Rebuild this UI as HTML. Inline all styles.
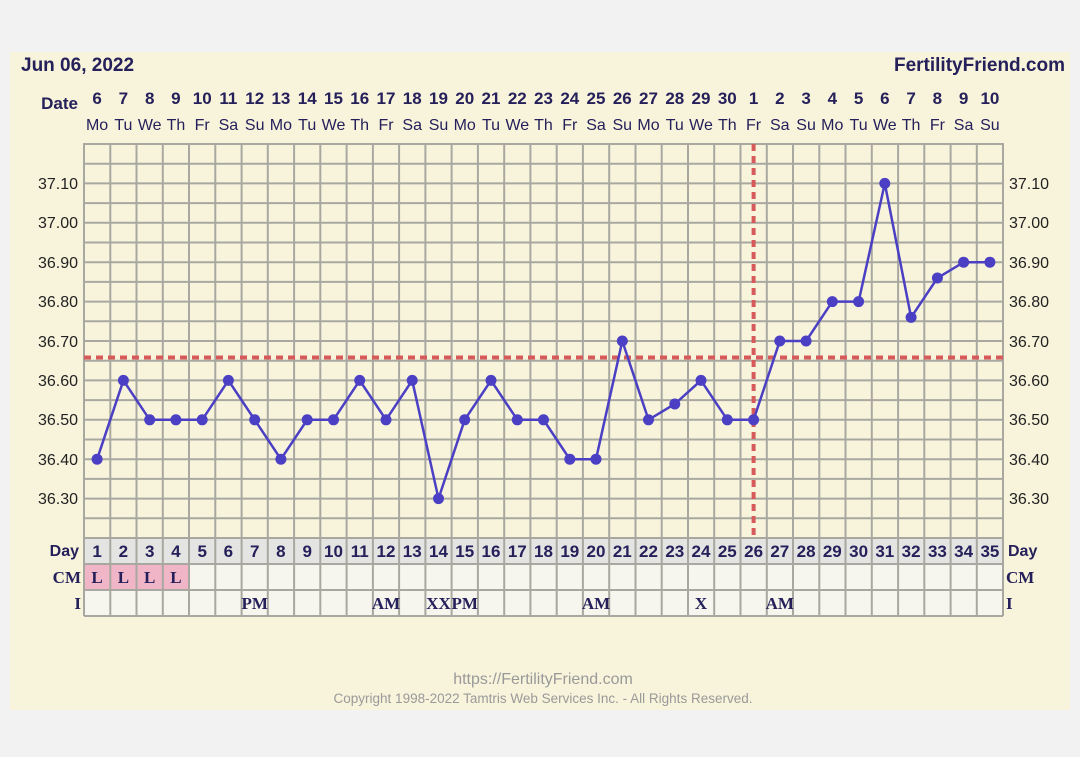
<!DOCTYPE html>
<html><head><meta charset="utf-8"><style>
html,body{margin:0;padding:0;background:#fff;}
svg{display:block;}
.b{font-family:"Liberation Sans",sans-serif;font-weight:bold;fill:#25205a;}
.n{font-family:"Liberation Sans",sans-serif;fill:#25205a;}
.s{font-family:"Liberation Serif",serif;font-weight:bold;fill:#25205a;}
.t{font-family:"Liberation Sans",sans-serif;fill:#222;font-size:16px;}
</style></head><body>
<svg width="1080" height="757" viewBox="0 0 1080 757" xmlns="http://www.w3.org/2000/svg">
<rect width="1080" height="757" fill="#f2f2f2"/>
<rect x="10" y="52" width="1060" height="658" fill="#f8f4dc"/>
<text x="21" y="71" class="b" font-size="19">Jun 06, 2022</text>
<text x="1065" y="71" class="b" font-size="19" text-anchor="end">FertilityFriend.com</text>
<text x="78" y="109" class="b" font-size="17" text-anchor="end">Date</text>
<g class="b" font-size="17" text-anchor="middle">
<text x="97.1" y="104">6</text><text x="123.4" y="104">7</text><text x="149.7" y="104">8</text><text x="175.9" y="104">9</text><text x="202.2" y="104">10</text><text x="228.4" y="104">11</text><text x="254.7" y="104">12</text><text x="280.9" y="104">13</text><text x="307.2" y="104">14</text><text x="333.5" y="104">15</text><text x="359.7" y="104">16</text><text x="386.0" y="104">17</text><text x="412.2" y="104">18</text><text x="438.5" y="104">19</text><text x="464.7" y="104">20</text><text x="491.0" y="104">21</text><text x="517.3" y="104">22</text><text x="543.5" y="104">23</text><text x="569.8" y="104">24</text><text x="596.0" y="104">25</text><text x="622.3" y="104">26</text><text x="648.5" y="104">27</text><text x="674.8" y="104">28</text><text x="701.0" y="104">29</text><text x="727.3" y="104">30</text><text x="753.6" y="104">1</text><text x="779.8" y="104">2</text><text x="806.1" y="104">3</text><text x="832.3" y="104">4</text><text x="858.6" y="104">5</text><text x="884.8" y="104">6</text><text x="911.1" y="104">7</text><text x="937.4" y="104">8</text><text x="963.6" y="104">9</text><text x="989.9" y="104">10</text>
</g>
<g class="n" font-size="16" text-anchor="middle">
<text x="97.1" y="130">Mo</text><text x="123.4" y="130">Tu</text><text x="149.7" y="130">We</text><text x="175.9" y="130">Th</text><text x="202.2" y="130">Fr</text><text x="228.4" y="130">Sa</text><text x="254.7" y="130">Su</text><text x="280.9" y="130">Mo</text><text x="307.2" y="130">Tu</text><text x="333.5" y="130">We</text><text x="359.7" y="130">Th</text><text x="386.0" y="130">Fr</text><text x="412.2" y="130">Sa</text><text x="438.5" y="130">Su</text><text x="464.7" y="130">Mo</text><text x="491.0" y="130">Tu</text><text x="517.3" y="130">We</text><text x="543.5" y="130">Th</text><text x="569.8" y="130">Fr</text><text x="596.0" y="130">Sa</text><text x="622.3" y="130">Su</text><text x="648.5" y="130">Mo</text><text x="674.8" y="130">Tu</text><text x="701.0" y="130">We</text><text x="727.3" y="130">Th</text><text x="753.6" y="130">Fr</text><text x="779.8" y="130">Sa</text><text x="806.1" y="130">Su</text><text x="832.3" y="130">Mo</text><text x="858.6" y="130">Tu</text><text x="884.8" y="130">We</text><text x="911.1" y="130">Th</text><text x="937.4" y="130">Fr</text><text x="963.6" y="130">Sa</text><text x="989.9" y="130">Su</text>
</g>
<!-- day row bg -->
<rect x="84" y="538" width="919" height="26" fill="#e4e4e2"/>
<rect x="84" y="564" width="919" height="52" fill="#f6f6ee"/>
<rect x="84" y="564" width="105" height="26" fill="#f1b5c8"/>
<!-- grid -->
<g stroke="#a8a8a0" stroke-width="2" fill="none">
<path d="M84 144H1003M84 163.7H1003M84 183.4H1003M84 203.1H1003M84 222.8H1003M84 242.5H1003M84 262.2H1003M84 281.9H1003M84 301.6H1003M84 321.3H1003M84 341H1003M84 360.7H1003M84 380.4H1003M84 400.1H1003M84 419.8H1003M84 439.5H1003M84 459.2H1003M84 478.9H1003M84 498.6H1003M84 518.3H1003M84 538H1003M84 564H1003M84 590H1003M84 616H1003"/>
<path d="M84 143V616M110.3 143V616M136.5 143V616M162.8 143V616M189 143V616M215.3 143V616M241.6 143V616M267.8 143V616M294.1 143V616M320.3 143V616M346.6 143V616M372.9 143V616M399.1 143V616M425.4 143V616M451.6 143V616M477.9 143V616M504.2 143V616M530.4 143V616M556.7 143V616M582.9 143V616M609.2 143V616M635.5 143V616M661.7 143V616M688 143V616M714.2 143V616M740.5 143V616M766.8 143V616M793 143V616M819.3 143V616M845.5 143V616M871.8 143V616M898.1 143V616M924.3 143V616M950.6 143V616M976.8 143V616M1003 143V616"/>
</g>
<!-- cover lines -->
<g stroke="#d75a5a" stroke-width="4" stroke-dasharray="7,5">
<path d="M84 357.5H1003"/>
<path d="M753.6 144V538"/>
</g>
<g class="t" text-anchor="end">
<text x="78" y="189">37.10</text><text x="78" y="228">37.00</text><text x="78" y="268">36.90</text><text x="78" y="307">36.80</text><text x="78" y="347">36.70</text><text x="78" y="386">36.60</text><text x="78" y="425">36.50</text><text x="78" y="465">36.40</text><text x="78" y="504">36.30</text>
</g>
<g class="t">
<text x="1009" y="189">37.10</text><text x="1009" y="228">37.00</text><text x="1009" y="268">36.90</text><text x="1009" y="307">36.80</text><text x="1009" y="347">36.70</text><text x="1009" y="386">36.60</text><text x="1009" y="425">36.50</text><text x="1009" y="465">36.40</text><text x="1009" y="504">36.30</text>
</g>
<polyline fill="none" stroke="#4b3fc4" stroke-width="2.5" points="97.1,459.2 123.4,380.4 149.7,419.8 175.9,419.8 202.2,419.8 228.4,380.4 254.7,419.8 280.9,459.2 307.2,419.8 333.5,419.8 359.7,380.4 386.0,419.8 412.2,380.4 438.5,498.6 464.7,419.8 491.0,380.4 517.3,419.8 543.5,419.8 569.8,459.2 596.0,459.2 622.3,341 648.5,419.8 674.8,404 701.0,380.4 727.3,419.8 753.6,419.8 779.8,341 806.1,341 832.3,301.6 858.6,301.6 884.8,183.4 911.1,317.4 937.4,278 963.6,262.2 989.9,262.2"/>
<g fill="#4b3fc4">
<circle cx="97.1" cy="459.2" r="5.5"/><circle cx="123.4" cy="380.4" r="5.5"/><circle cx="149.7" cy="419.8" r="5.5"/><circle cx="175.9" cy="419.8" r="5.5"/><circle cx="202.2" cy="419.8" r="5.5"/><circle cx="228.4" cy="380.4" r="5.5"/><circle cx="254.7" cy="419.8" r="5.5"/><circle cx="280.9" cy="459.2" r="5.5"/><circle cx="307.2" cy="419.8" r="5.5"/><circle cx="333.5" cy="419.8" r="5.5"/><circle cx="359.7" cy="380.4" r="5.5"/><circle cx="386.0" cy="419.8" r="5.5"/><circle cx="412.2" cy="380.4" r="5.5"/><circle cx="438.5" cy="498.6" r="5.5"/><circle cx="464.7" cy="419.8" r="5.5"/><circle cx="491.0" cy="380.4" r="5.5"/><circle cx="517.3" cy="419.8" r="5.5"/><circle cx="543.5" cy="419.8" r="5.5"/><circle cx="569.8" cy="459.2" r="5.5"/><circle cx="596.0" cy="459.2" r="5.5"/><circle cx="622.3" cy="341" r="5.5"/><circle cx="648.5" cy="419.8" r="5.5"/><circle cx="674.8" cy="404" r="5.5"/><circle cx="701.0" cy="380.4" r="5.5"/><circle cx="727.3" cy="419.8" r="5.5"/><circle cx="753.6" cy="419.8" r="5.5"/><circle cx="779.8" cy="341" r="5.5"/><circle cx="806.1" cy="341" r="5.5"/><circle cx="832.3" cy="301.6" r="5.5"/><circle cx="858.6" cy="301.6" r="5.5"/><circle cx="884.8" cy="183.4" r="5.5"/><circle cx="911.1" cy="317.4" r="5.5"/><circle cx="937.4" cy="278" r="5.5"/><circle cx="963.6" cy="262.2" r="5.5"/><circle cx="989.9" cy="262.2" r="5.5"/>
</g>
<text x="79" y="556" class="b" font-size="16" text-anchor="end">Day</text>
<text x="1008" y="556" class="b" font-size="16">Day</text>
<g class="b" font-size="17" text-anchor="middle">
<text x="97.1" y="557">1</text><text x="123.4" y="557">2</text><text x="149.7" y="557">3</text><text x="175.9" y="557">4</text><text x="202.2" y="557">5</text><text x="228.4" y="557">6</text><text x="254.7" y="557">7</text><text x="280.9" y="557">8</text><text x="307.2" y="557">9</text><text x="333.5" y="557">10</text><text x="359.7" y="557">11</text><text x="386.0" y="557">12</text><text x="412.2" y="557">13</text><text x="438.5" y="557">14</text><text x="464.7" y="557">15</text><text x="491.0" y="557">16</text><text x="517.3" y="557">17</text><text x="543.5" y="557">18</text><text x="569.8" y="557">19</text><text x="596.0" y="557">20</text><text x="622.3" y="557">21</text><text x="648.5" y="557">22</text><text x="674.8" y="557">23</text><text x="701.0" y="557">24</text><text x="727.3" y="557">25</text><text x="753.6" y="557">26</text><text x="779.8" y="557">27</text><text x="806.1" y="557">28</text><text x="832.3" y="557">29</text><text x="858.6" y="557">30</text><text x="884.8" y="557">31</text><text x="911.1" y="557">32</text><text x="937.4" y="557">33</text><text x="963.6" y="557">34</text><text x="989.9" y="557">35</text>
</g>
<text x="81" y="583" class="s" font-size="17" text-anchor="end">CM</text>
<text x="1006" y="583" class="s" font-size="17">CM</text>
<text x="81" y="609" class="s" font-size="17" text-anchor="end">I</text>
<text x="1006" y="609" class="s" font-size="17">I</text>
<g class="s" font-size="17" text-anchor="middle">
<text x="97.1" y="583">L</text><text x="123.4" y="583">L</text><text x="149.7" y="583">L</text><text x="175.9" y="583">L</text>
<text x="254.7" y="609">PM</text><text x="386.0" y="609">AM</text><text x="438.5" y="609">XX</text><text x="464.7" y="609">PM</text><text x="596.0" y="609">AM</text><text x="701.0" y="609">X</text><text x="779.8" y="609">AM</text>
</g>
<text x="543" y="684" font-family="Liberation Sans,sans-serif" font-size="16" fill="#999" text-anchor="middle">https://FertilityFriend.com</text>
<text x="543" y="703" font-family="Liberation Sans,sans-serif" font-size="13.5" fill="#999" text-anchor="middle">Copyright 1998-2022 Tamtris Web Services Inc. - All Rights Reserved.</text>
</svg>
</body></html>
